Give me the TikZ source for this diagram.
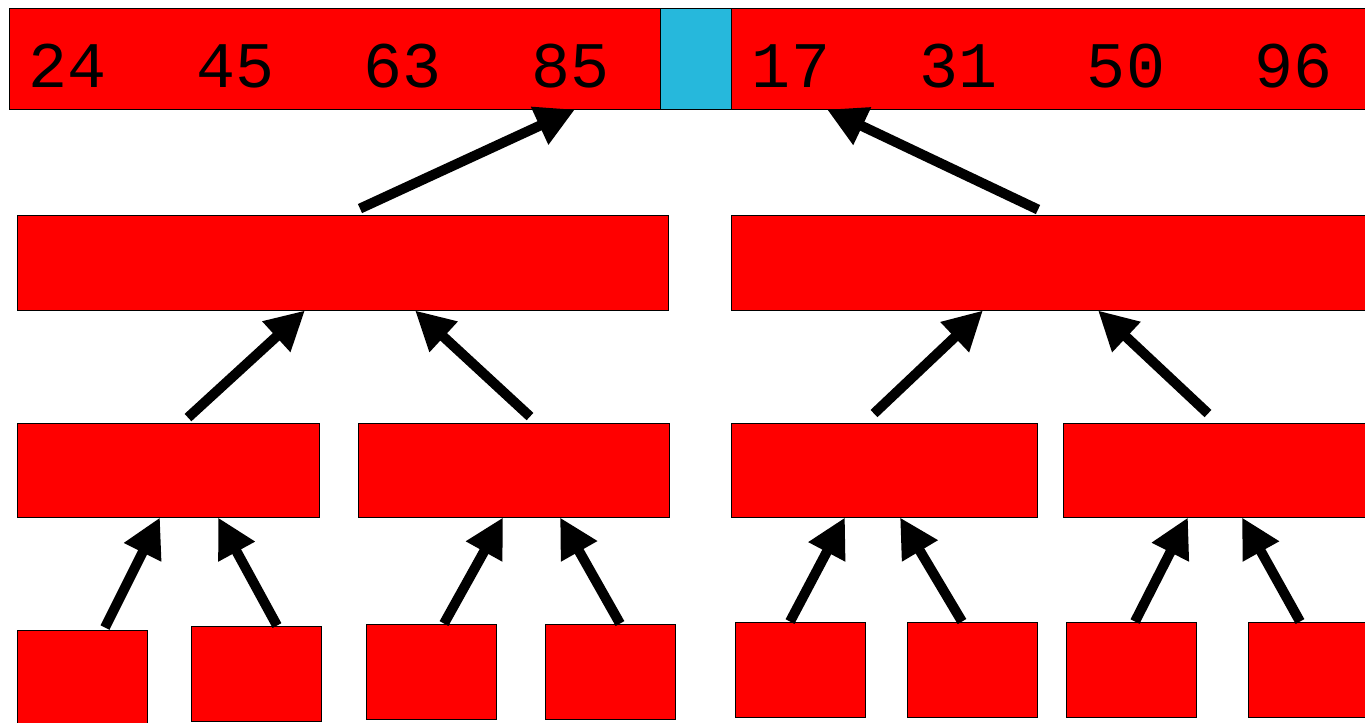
\documentclass[tikz,border=0pt]{standalone}
\usepackage{fontspec}
\setmonofont{Liberation Mono}
\usetikzlibrary{arrows.meta,positioning}
\definecolor{runred}{HTML}{FF0000}
\definecolor{gapblue}{HTML}{26B8DC}

\begin{document}
\begin{tikzpicture}[
    box/.style={rectangle, draw, fill=runred, line width=0.5pt, inner sep=0pt, minimum height=1.9cm},
    num/.style={anchor=base, inner sep=0pt, font=\ttfamily\fontsize{37}{40}\selectfont},
    arrow/.style={-{Triangle[length=0.78cm,width=0.78cm]}, line width=0.2cm}
]
\useasboundingbox (0,0) rectangle (27.3,-14.46);
\clip (0,0) rectangle (27.3,-14.46);

% Merged array at the top
\node[box, minimum width=13.02cm, minimum height=2.02cm] (topleft) at (6.69,-1.17) {};
\node[box, fill=gapblue, minimum width=1.42cm, minimum height=2.02cm] (gap) at (13.91,-1.17) {};
\node[box, minimum width=13.02cm, minimum height=2.02cm] (topright) at (21.13,-1.17) {};
\foreach \v [count=\i] in {24,45,63,85}
    \node[num] (numl\i) at ({1.36+3.35*(\i-1)},-1.75) {\v};
\foreach \v [count=\i] in {17,31,50,96}
    \node[num] (numr\i) at ({15.82+3.35*(\i-1)},-1.75) {\v};

% Second level
\node[box, minimum width=13.02cm] (halfa) at (6.85,-5.25) {};
\node[box, minimum width=13.02cm] (halfb) at (21.13,-5.25) {};

% Third level
\node[box, minimum width=6.04cm, minimum height=1.88cm] (quarta) at (3.36,-9.4) {};
\node[box, minimum width=6.22cm, minimum height=1.88cm] (quartb) at (10.27,-9.4) {};
\node[box, minimum width=6.12cm, minimum height=1.88cm] (quartc) at (17.68,-9.4) {};
\node[box, minimum width=6.12cm, minimum height=1.88cm] (quartd) at (24.32,-9.4) {};

% Bottom level
\node[box, minimum width=2.6cm] (leafa) at (1.64,-13.55) {};
\node[box, minimum width=2.6cm] (leafb) at (5.12,-13.47) {};
\node[box, minimum width=2.6cm] (leafc) at (8.62,-13.43) {};
\node[box, minimum width=2.6cm] (leafd) at (12.21,-13.43) {};
\node[box, minimum width=2.6cm] (leafe) at (16.0,-13.39) {};
\node[box, minimum width=2.6cm] (leaff) at (19.44,-13.39) {};
\node[box, minimum width=2.6cm] (leafg) at (22.62,-13.39) {};
\node[box, minimum width=2.6cm] (leafh) at (26.26,-13.39) {};

% Arrows up the tree
\draw[arrow] ([xshift=0.35cm,yshift=0.12cm]halfa.north) -- ([xshift=4.81cm]topleft.south);
\draw[arrow] ([xshift=-0.37cm,yshift=0.1cm]halfb.north) -- ([xshift=-4.59cm]topright.south);

\draw[arrow] ([xshift=0.4cm,yshift=0.1cm]quarta.north) -- ([xshift=-0.75cm]halfa.south);
\draw[arrow] ([xshift=0.33cm,yshift=0.12cm]quartb.north) -- ([xshift=1.45cm]halfa.south);
\draw[arrow] ([xshift=-0.2cm,yshift=0.18cm]quartc.north) -- ([xshift=-1.47cm]halfb.south);
\draw[arrow] ([xshift=-0.16cm,yshift=0.18cm]quartd.north) -- ([xshift=0.83cm]halfb.south);

\draw[arrow] ([xshift=0.46cm,yshift=0.04cm]leafa.north) -- ([xshift=-0.16cm]quarta.south);
\draw[arrow] ([xshift=0.42cm]leafb.north) -- ([xshift=1.0cm]quarta.south);
\draw[arrow] ([xshift=0.26cm]leafc.north) -- ([xshift=-0.21cm]quartb.south);
\draw[arrow] ([xshift=0.19cm]leafd.north) -- ([xshift=0.93cm]quartb.south);
\draw[arrow] ([xshift=-0.2cm]leafe.north) -- ([xshift=-0.78cm]quartc.south);
\draw[arrow] ([xshift=-0.2cm]leaff.north) -- ([xshift=0.32cm]quartc.south);
\draw[arrow] ([xshift=0.08cm]leafg.north) -- ([xshift=-0.56cm]quartd.south);
\draw[arrow] ([xshift=-0.26cm]leafh.north) -- ([xshift=0.52cm]quartd.south);

\end{tikzpicture}
\end{document}
